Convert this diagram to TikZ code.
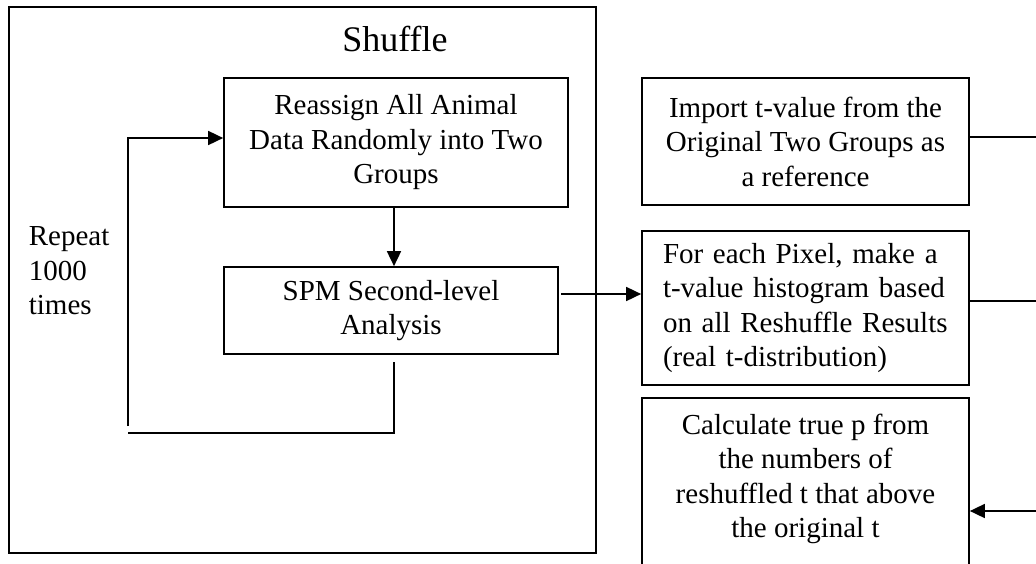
\documentclass[tikz,border=0pt]{standalone}
\usepackage{fontspec}
\setmainfont{Liberation Serif}
\usetikzlibrary{arrows.meta}

\tikzset{box/.style={draw, align=center, inner sep=0pt}}

\begin{document}
\begin{tikzpicture}[x=1pt, y=-1pt, >={Triangle[length=15pt,width=14pt]}, line width=1.7pt, font=\fontsize{29}{34.5}\selectfont]
\useasboundingbox (0,0) rectangle (1036,563);

\node[name=shuffle, draw, anchor=north west, minimum width=587, minimum height=546, inner sep=0pt] at (8,6) {};
\node[name=title, anchor=base, font=\fontsize{36}{40}\selectfont] at (395,51) {Shuffle};
\node[name=reassign, box, minimum width=344, minimum height=129] at (396,142.5) {Reassign All Animal\\Data Randomly into Two\\Groups};
\node[name=spm, box, minimum width=334, minimum height=87] at (391,310.5) {SPM Second-level\\Analysis};
\node[name=repeat, anchor=north west, align=left, inner sep=0pt] at (28,226) {Repeat\\1000\\times};

\node[name=import, box, minimum width=327, minimum height=127] at (805.5,141.5) {Import t-value from the\\Original Two Groups as\\a reference};
\node[name=hist, box, minimum width=327, minimum height=154, text width=285, align=left] at (805.5,308) {\makebox[285pt][s]{For each Pixel, make a}\\\makebox[285pt][s]{t-value histogram based}\\on all Reshuffle Results\\(real t-distribution)};
\node[name=calc, box, anchor=north, minimum width=327, inner ysep=16pt, text depth=90pt] at (805.5,397) {Calculate true p from\\the numbers of\\reshuffled t that above\\the original t};

\coordinate (mid) at (394,0);
\coordinate (loop_start) at (394,362);
\coordinate (loop_corner) at (128,433);
\coordinate (loop_up) at (128,426);
\coordinate (loop_top) at (128,138);
\coordinate (out) at (561,294);
\coordinate (edge_imp) at (1036,137);
\coordinate (edge_hist) at (1036,301);
\coordinate (edge_calc) at (1036,511);

\draw(reassign.south -| mid) edge[->](spm.north -| mid);
\draw(loop_start) |- (loop_corner);
\draw[->](loop_up) |- (reassign.west |- loop_top);
\draw[->](out) -- (out -| hist.west);
\draw(import.east |- edge_imp) -- (edge_imp);
\draw(hist.east |- edge_hist) -- (edge_hist);
\draw[->](edge_calc) -- (edge_calc -| calc.east);

\end{tikzpicture}
\end{document}
